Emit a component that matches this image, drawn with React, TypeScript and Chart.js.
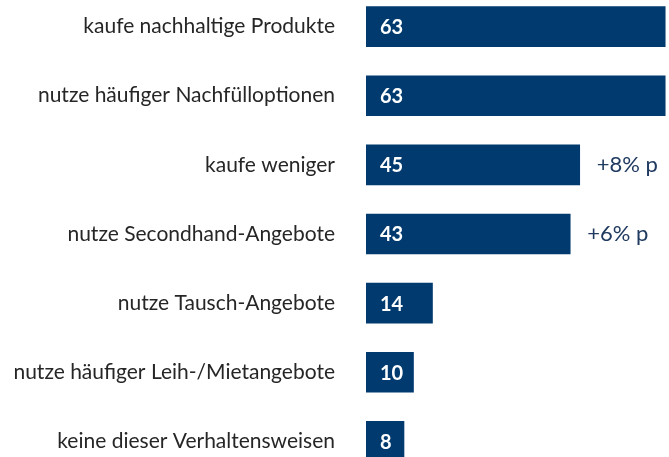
import React, { useEffect, useRef } from "react";
import { Chart, registerables } from "chart.js";

Chart.register(...registerables);

const categories = [
  "kaufe nachhaltige Produkte",
  "nutze häufiger Nachfülloptionen",
  "kaufe weniger",
  "nutze Secondhand-Angebote",
  "nutze Tausch-Angebote",
  "nutze häufiger Leih-/Mietangebote",
  "keine dieser Verhaltensweisen",
];
const values = [63, 63, 45, 43, 14, 10, 8];
const changes = ["", "", "+8% p", "+6% p", "", "", ""];

const BAR_COLOR = "#013a6e";
const TEXT_COLOR = "#262626";
const CHANGE_COLOR = "#203a60";
const FONT = "Lato, 'Open Sans', sans-serif";

const labelPlugin = {
  id: "barLabels",
  afterDatasetsDraw(chart: any) {
    const ctx = chart.ctx;
    const meta = chart.getDatasetMeta(0);
    ctx.save();
    meta.data.forEach((bar: any, i: number) => {
      const left = chart.scales.x.getPixelForValue(0);
      ctx.font = `bold 20px ${FONT}`;
      ctx.fillStyle = "#ffffff";
      ctx.textAlign = "left";
      ctx.textBaseline = "middle";
      ctx.fillText(String(values[i]), left + 14, bar.y + 1);
      if (changes[i]) {
        ctx.font = `22px ${FONT}`;
        ctx.fillStyle = CHANGE_COLOR;
        ctx.fillText(changes[i], bar.x + 17, bar.y);
      }
    });
    ctx.restore();
  },
};

export default function App() {
  const ref = useRef<HTMLCanvasElement>(null);
  useEffect(() => {
    document.body.style.margin = "0";
    const chart = new Chart(ref.current!, {
      type: "bar",
      data: {
        labels: categories,
        datasets: [
          {
            data: values,
            backgroundColor: BAR_COLOR,
            barThickness: 40,
          },
        ],
      },
      options: {
        indexAxis: "y",
        animation: false,
        responsive: false,
        maintainAspectRatio: false,
        layout: { padding: 0 },
        plugins: { legend: { display: false }, tooltip: { enabled: false } },
        scales: {
          x: { display: false, min: 0, max: 63.8 },
          y: {
            afterFit: (axis: any) => {
              axis.width = 366;
              axis.paddingTop = 0;
              axis.paddingBottom = 0;
            },
            grid: { display: false, drawTicks: false },
            border: { display: false },
            ticks: {
              padding: 31,
              color: TEXT_COLOR,
              font: { family: FONT, size: 21 },
            },
          },
        },
      },
      plugins: [labelPlugin],
    });
    return () => chart.destroy();
  }, []);
  return (
    <div style={{ position: "relative", width: 669, height: 457, overflow: "hidden" }}>
      <canvas
        ref={ref}
        width={669}
        height={484}
        style={{ position: "absolute", left: 0, top: -8, width: 669, height: 484 }}
      />
    </div>
  );
}
